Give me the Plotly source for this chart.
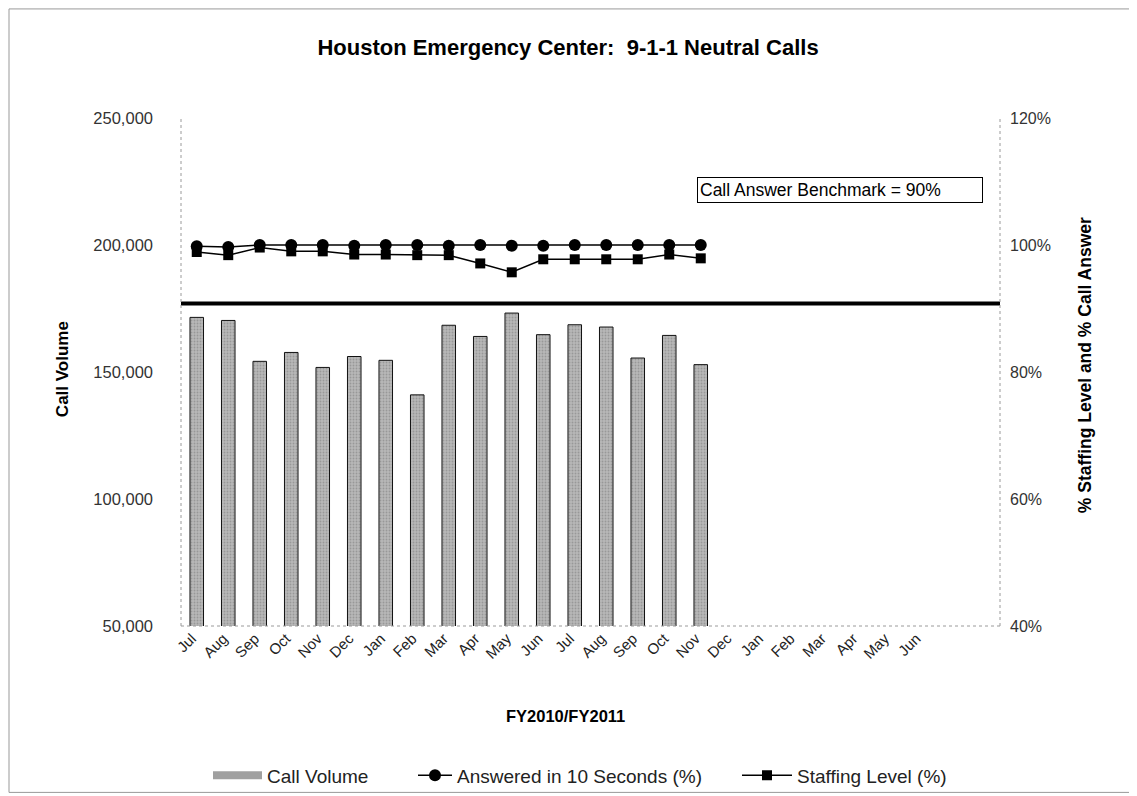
import plotly.graph_objects as go

months = ["Jul", "Aug", "Sep", "Oct", "Nov", "Dec", "Jan", "Feb", "Mar", "Apr", "May", "Jun",
          "Jul", "Aug", "Sep", "Oct", "Nov", "Dec", "Jan", "Feb", "Mar", "Apr", "May", "Jun"]
call_volume = [171500, 170300, 154200, 157700, 151800, 156100, 154600, 141000, 168400, 164000,
               173200, 164700, 168600, 167700, 155500, 164400, 152900]
answered_pct = [99.8, 99.7, 100.0, 100.0, 100.0, 99.9, 100.0, 100.0, 99.9, 100.0,
                99.9, 99.9, 100.0, 100.0, 100.0, 100.0, 100.0]
staffing_pct = [98.9, 98.4, 99.6, 99.0, 99.0, 98.5, 98.5, 98.4, 98.4, 97.1,
                95.7, 97.75, 97.75, 97.75, 97.75, 98.5, 97.9]
benchmark_pct = 90.8   # drawn position of the "90%" benchmark line
left_ticks = [50000, 100000, 150000, 200000, 250000]
right_ticks = [40, 60, 80, 100, 120]
right_labels = ["40%", "60%", "80%", "100%", "120%"]
n_slots = 26  # category slots on the axis (24 months + 2 empty)

x_all = list(range(len(months)))
x_data = x_all[:len(call_volume)]

# page body has an 8px margin: the figure is drawn from (8, 8)
OFF = 8
PL, PR, PT, PB = 181, 1000, 118, 625.7   # plot area in screen pixels
W, H = 1137 - OFF, 796 - OFF


def px(xs):
    return (xs - PL) / (PR - PL)


def py(ys):
    return 1 - (ys - PT) / (PB - PT)


font = "Arial, Liberation Sans, sans-serif"

fig = go.Figure()
fig.add_trace(go.Bar(
    x=x_data, y=call_volume, name="Call Volume", width=0.43,
    marker=dict(color="#ababab", line=dict(color="#111", width=1),
                pattern=dict(shape=".", size=3, solidity=0.3, fgcolor="#777", bgcolor="#b8b8b8")),
    yaxis="y", showlegend=False,
))
# legend swatch for the bars (wide grey patch as in the original)
fig.add_trace(go.Scatter(
    x=[None], y=[None], name="Call Volume", mode="lines",
    line=dict(color="#a0a0a0", width=8), yaxis="y", legend="legend", hoverinfo="skip",
))
fig.add_trace(go.Scatter(
    x=x_data, y=answered_pct, name="Answered in 10 Seconds (%)", mode="lines+markers",
    line=dict(color="#000", width=1.5), marker=dict(symbol="circle", size=12, color="#000"),
    yaxis="y2", legend="legend2",
))
fig.add_trace(go.Scatter(
    x=x_data, y=staffing_pct, name="Staffing Level (%)", mode="lines+markers",
    line=dict(color="#000", width=1.5), marker=dict(symbol="square", size=10, color="#000"),
    yaxis="y2", legend="legend3",
))
fig.add_trace(go.Scatter(
    x=[-0.5, n_slots - 0.5], y=[benchmark_pct, benchmark_pct], mode="lines",
    line=dict(color="#000", width=4), yaxis="y2", showlegend=False, hoverinfo="skip",
))

leg_common = dict(orientation="h", yanchor="middle", y=py(775), xanchor="left",
                  font=dict(size=19, color="#222"), bgcolor="rgba(0,0,0,0)")
fig.update_layout(
    width=W, height=H,
    margin=dict(l=PL - OFF, r=W - (PR - OFF), t=PT - OFF, b=H - (PB - OFF), autoexpand=False),
    paper_bgcolor="white", plot_bgcolor="white",
    font=dict(family=font, size=13, color="#222"),
    title=dict(text="<b>Houston Emergency Center:  9-1-1 Neutral Calls</b>",
               x=(568 - OFF) / W, xanchor="center", y=1 - (47 - OFF) / H, yanchor="middle",
               font=dict(size=22, color="#000")),
    xaxis=dict(range=[-0.5, n_slots - 0.5], tickmode="array", tickvals=x_all, ticktext=months,
               tickangle=-45, showgrid=False, zeroline=False, showline=False,
               ticks="", ticklabelshift=-5, tickfont=dict(size=15, color="#222")),
    yaxis=dict(range=[left_ticks[0], left_ticks[-1]], tickmode="array", tickvals=left_ticks,
               ticktext=[f"{v:,}" for v in left_ticks],
               showgrid=False, zeroline=False, showline=False,
               ticks="", ticklabelstandoff=27,
               tickfont=dict(size=16.5, color="#333")),
    yaxis2=dict(range=[right_ticks[0], right_ticks[-1]], tickmode="array", tickvals=right_ticks,
                ticktext=right_labels,
                overlaying="y", side="right", showgrid=False, zeroline=False, showline=False,
                ticks="", ticklabelstandoff=9,
                tickfont=dict(size=16, color="#333")),
    legend=dict(**{**leg_common, "x": px(208)}, itemwidth=49),
    legend2=dict(**{**leg_common, "x": px(413)}, itemwidth=34),
    legend3=dict(**{**leg_common, "x": px(737)}, itemwidth=50),
    showlegend=True,
)

# dotted axis lines (left, right, bottom)
dot = dict(color="#9a9a9a", width=1, dash="dot")
fig.add_shape(type="line", xref="paper", yref="paper", x0=0, x1=0, y0=0, y1=1, line=dot)
fig.add_shape(type="line", xref="paper", yref="paper", x0=1, x1=1, y0=0, y1=1, line=dot)
fig.add_shape(type="line", xref="paper", yref="paper", x0=0, x1=1, y0=0, y1=0, line=dot)

fig.add_annotation(
    text="Call Answer Benchmark = 90%", xref="paper", yref="paper",
    x=px(697), xanchor="left", y=py(189.5), yanchor="middle",
    showarrow=False, align="left", width=280, height=20,
    bordercolor="#000", borderwidth=1, bgcolor="white", borderpad=2,
    font=dict(size=17.5, color="#000"),
)
fig.add_annotation(
    text="<b>FY2010/FY2011</b>", xref="paper", yref="paper",
    x=px(565), xanchor="center", y=py(716), yanchor="middle",
    showarrow=False, font=dict(size=16.5, color="#000"),
)
fig.add_annotation(
    text="<b>Call Volume</b>", xref="paper", yref="paper", textangle=-90,
    x=px(62), xanchor="center", y=py(369), yanchor="middle",
    showarrow=False, font=dict(size=17, color="#000"),
)
fig.add_annotation(
    text="<b>% Staffing Level and % Call Answer</b>", xref="paper", yref="paper", textangle=-90,
    x=px(1085), xanchor="center", y=py(365), yanchor="middle",
    showarrow=False, font=dict(size=17.5, color="#000"),
)
# outer chart border
fig.add_shape(type="rect", xref="paper", yref="paper",
              x0=px(OFF + 1), x1=px(1133), y0=py(792), y1=py(OFF + 1),
              line=dict(color="#999", width=1), fillcolor="rgba(0,0,0,0)", layer="below")

fig.write_html("out.html")
